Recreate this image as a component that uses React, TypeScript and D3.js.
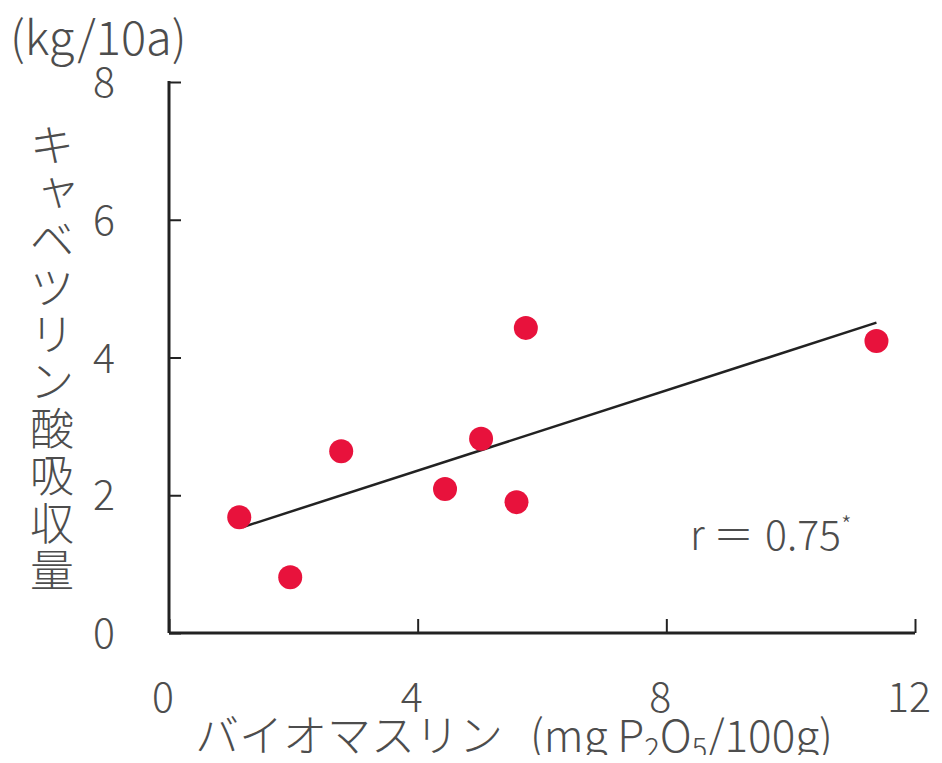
import React, { useEffect, useRef } from 'react';
import * as d3 from 'd3';

// バイオマスリン (mg P2O5/100g)
const biomassP = [1.13, 1.95, 2.77, 4.44, 5.02, 5.59, 5.74, 11.38];
// キャベツリン酸吸収量 (kg/10a)
const uptake = [1.68, 0.81, 2.64, 2.09, 2.82, 1.90, 4.43, 4.24];
const xTicks = [0, 4, 8, 12];
const yTicks = [0, 2, 4, 6, 8];
const yLabelChars = ['キ', 'ャ', 'ベ', 'ツ', 'リ', 'ン', '酸', '吸', '収', '量'];

const FONT = '"Noto Sans CJK JP", "Noto Sans", sans-serif';

export default function App() {
  const ref = useRef<SVGSVGElement>(null);

  useEffect(() => {
    const width = 942, height = 763;
    const margin = { top: 82, right: 27, bottom: 130, left: 169 };

    const svg = d3.select(ref.current);
    svg.selectAll('*').remove();

    // 比例尺
    const x = d3.scaleLinear().domain([0, 12]).range([margin.left, width - margin.right]);
    const y = d3.scaleLinear().domain([0, 8]).range([height - margin.bottom, margin.top]);

    const textColor = '#4d4d4d';
    const txt = (sel: any, size: number) => sel
      .attr('font-family', FONT)
      .attr('font-weight', 300)
      .attr('font-size', size)
      .attr('fill', textColor);

    // x軸
    const gx = svg.append('g').attr('transform', `translate(0,${y(0)})`)
      .call(d3.axisTop(x).tickValues(xTicks).tickSize(14).tickFormat(() => ''));
    gx.select('.domain').remove();
    gx.selectAll('line').attr('stroke', '#222').attr('stroke-width', 2);
    svg.append('line')
      .attr('x1', x(0)).attr('x2', x(12)).attr('y1', y(0)).attr('y2', y(0))
      .attr('stroke', '#222').attr('stroke-width', 3);
    svg.append('g').selectAll('text').data(xTicks).enter().append('text')
      .attr('x', d => x(d) - 6)
      .attr('y', 712)
      .attr('text-anchor', 'middle')
      .call(txt, 41)
      .text(d => d);

    // y軸
    const gy = svg.append('g').attr('transform', `translate(${x(0)},0)`)
      .call(d3.axisRight(y).tickValues(yTicks).tickSize(12).tickFormat(() => ''));
    gy.select('.domain').remove();
    gy.selectAll('line').attr('stroke', '#222').attr('stroke-width', 2);
    svg.append('line')
      .attr('x1', x(0)).attr('x2', x(0)).attr('y1', y(0)).attr('y2', y(8) - 1)
      .attr('stroke', '#222').attr('stroke-width', 3);
    svg.append('g').selectAll('text').data(yTicks).enter().append('text')
      .attr('x', 104)
      .attr('y', d => y(d) + 15)
      .attr('text-anchor', 'middle')
      .call(txt, 41)
      .text(d => d);

    // 単位
    svg.append('text')
      .attr('x', 10).attr('y', 55)
      .call(txt, 47)
      .text('(kg/10a)');

    // 縦軸ラベル
    svg.append('g').selectAll('text').data(yLabelChars).enter().append('text')
      .attr('x', (d, i) => (i === 1 ? 58 : 52))
      .attr('y', (d, i) => 162 + i * 47.2 + (i === 1 ? -4 : 0))
      .attr('text-anchor', 'middle')
      .call(txt, 44)
      .text(d => d);

    // 横軸ラベル
    const xl = svg.append('text')
      .attr('x', 195).attr('y', 752)
      .call(txt, 44);
    xl.append('tspan').text('バイオマスリン');
    xl.append('tspan').attr('x', 530).text('(mg P');
    xl.append('tspan').attr('font-size', 29).attr('dy', 7).text('2');
    xl.append('tspan').attr('dy', -7).text('O');
    xl.append('tspan').attr('font-size', 29).attr('dy', 7).text('5');
    xl.append('tspan').attr('dy', -7).text('/100g)');

    // 回帰直線
    const mx = d3.mean(biomassP)!, my = d3.mean(uptake)!;
    const sxy = d3.sum(biomassP, (v, i) => (v - mx) * (uptake[i] - my));
    const sxx = d3.sum(biomassP, v => (v - mx) ** 2);
    const slope = sxy / sxx, icpt = my - slope * mx;
    const [x0, x1] = d3.extent(biomassP) as [number, number];
    const lx0 = x0 + 0.06;
    svg.append('line')
      .attr('x1', x(lx0)).attr('y1', y(icpt + slope * lx0))
      .attr('x2', x(x1)).attr('y2', y(icpt + slope * x1))
      .attr('stroke', '#222').attr('stroke-width', 2.5);

    // 点
    svg.append('g').attr('fill', '#e8123c')
      .selectAll('circle').data(biomassP).enter().append('circle')
      .attr('cx', d => x(d))
      .attr('cy', (d, i) => y(uptake[i]))
      .attr('r', 12);

    // 相関係数
    const rt = svg.append('text')
      .attr('x', 690).attr('y', 550)
      .call(txt, 41);
    rt.append('tspan').text('r');
    rt.append('tspan').attr('x', 713).text('＝');
    rt.append('tspan').attr('x', 765).text('0.75');
    rt.append('tspan').attr('font-size', 24).attr('dy', -16).text('*');
  }, []);

  return (
    <div style={{ margin: -8 }}>
      <svg ref={ref} width={942} height={763} style={{ display: 'block', background: '#fff' }} />
    </div>
  );
}
